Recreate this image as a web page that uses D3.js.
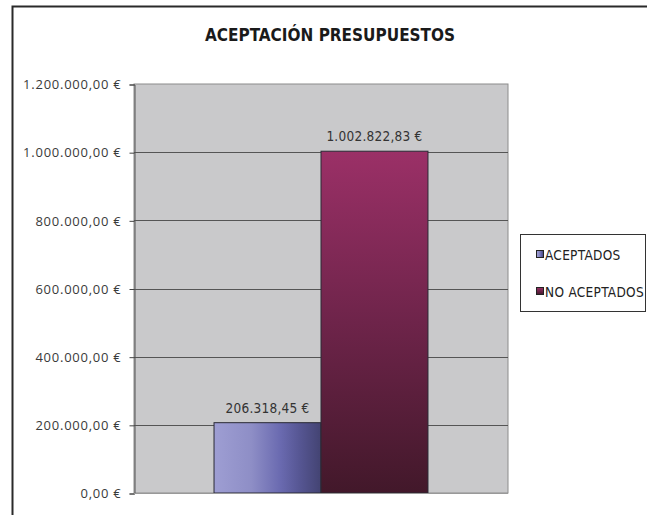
<!DOCTYPE html>
<html><head><meta charset="utf-8">
<script src="https://cdn.jsdelivr.net/npm/d3@7"></script>
<style>
html,body{margin:0;padding:0;background:#fff;}
svg{display:block;}
</style></head>
<body>
<script>
const title = "ACEPTACIÓN PRESUPUESTOS";
const categories = [""];
const seriesNames = ["ACEPTADOS", "NO ACEPTADOS"];
const seriesValues = [206318.45, 1002822.83];
const yTicks = [0, 200000, 400000, 600000, 800000, 1000000, 1200000];

(function () {
const W = 647, H = 515;
const svg = d3.select("body").append("svg").attr("width", W).attr("height", H);

const loc = d3.formatLocale({decimal: ",", thousands: ".", grouping: [3], currency: ["", " €"]});
const fmt = loc.format("$,.2f");
const condensed = "'DejaVu Sans Condensed','Liberation Sans Narrow',sans-serif";

const defs = svg.append("defs");
const g1 = defs.append("linearGradient").attr("id", "gA").attr("x1", 0).attr("y1", 0).attr("x2", 1).attr("y2", 0);
[[0, "#9e9ed3"], [0.35, "#8e8ec6"], [0.62, "#6a6ab0"], [0.8, "#565693"], [1, "#434372"]].forEach(s => g1.append("stop").attr("offset", s[0]).attr("stop-color", s[1]));
const g2 = defs.append("linearGradient").attr("id", "gB").attr("x1", 0).attr("y1", 0).attr("x2", 0).attr("y2", 1);
[[0, "#9b3067"], [0.5, "#6e244a"], [1, "#42182a"]].forEach(s => g2.append("stop").attr("offset", s[0]).attr("stop-color", s[1]));
const fills = ["url(#gA)", "url(#gB)"];

// outer frame
svg.append("rect").attr("x", 12.5).attr("y", 6.5).attr("width", 700).attr("height", 600)
  .attr("fill", "none").attr("stroke", "#2a2a2a").attr("stroke-width", 2);

// title
svg.append("text").attr("x", 330).attr("y", 41).attr("text-anchor", "middle")
  .attr("font-family", condensed)
  .attr("font-weight", "bold").attr("font-size", 17).attr("letter-spacing", 0)
  .attr("fill", "#1a1a1a").text(title);

const pL = 134, pR = 508, pT = 84, pB = 493;
const y = d3.scaleLinear().domain([0, 1200000]).range([pB, pT]);
const x0 = d3.scaleBand().domain(categories).range([pL, pR]).paddingInner(0).paddingOuter(0.374);
const x1 = d3.scaleBand().domain(seriesNames).range([0, x0.bandwidth()]).padding(0);

// plot area
svg.append("rect").attr("x", pL).attr("y", pT).attr("width", pR - pL).attr("height", pB - pT)
  .attr("fill", "#c9c9cb").attr("stroke", "#8c8c8c").attr("stroke-width", 1);

// gridlines
svg.append("g").selectAll("line").data(yTicks.filter(d => d > 0 && d < 1200000)).join("line")
  .attr("x1", pL).attr("x2", pR).attr("y1", d => Math.round(y(d)) + 0.5).attr("y2", d => Math.round(y(d)) + 0.5)
  .attr("stroke", "#555").attr("stroke-width", 1);

// y axis
const yAxis = d3.axisLeft(y).tickValues(yTicks).tickFormat(fmt).tickSize(5).tickPadding(8);
const ya = svg.append("g").attr("transform", `translate(${pL + 0.5},0.5)`).call(yAxis);
ya.select(".domain").attr("stroke", "#555");
ya.selectAll(".tick line").attr("stroke", "#444");
ya.selectAll(".tick text").attr("font-family", "'Open Sans','Noto Sans',sans-serif").attr("font-size", 13)
  .attr("letter-spacing", 0.75).attr("fill", "#3a3a3a");

// bars
const bars = svg.append("g");
seriesNames.forEach((name, i) => {
  const v = seriesValues[i];
  const bx = x0(categories[0]) + x1(name);
  bars.append("rect").attr("x", bx).attr("y", y(v)).attr("width", x1.bandwidth()).attr("height", y(0) - y(v))
    .attr("fill", fills[i]).attr("stroke", "#2a2a35").attr("stroke-width", 1);
  bars.append("text").attr("x", bx + x1.bandwidth() / 2).attr("y", y(v) - 10).attr("text-anchor", "middle")
    .attr("font-family", condensed)
    .attr("font-size", 13.5).attr("letter-spacing", 0.25).attr("fill", "#333").text(fmt(v));
});
// bottom axis line
svg.append("line").attr("x1", pL).attr("x2", pR).attr("y1", pB + 0.5).attr("y2", pB + 0.5).attr("stroke", "#999");

// legend
const lg = svg.append("g");
lg.append("rect").attr("x", 520.5).attr("y", 234.5).attr("width", 125).attr("height", 77)
  .attr("fill", "#fff").attr("stroke", "#333").attr("stroke-width", 1);
seriesNames.forEach((name, i) => {
  const ly = 255 + i * 37;
  lg.append("rect").attr("x", 536.5).attr("y", ly - 4.5).attr("width", 7).attr("height", 7)
    .attr("fill", fills[i]).attr("stroke", "#222").attr("stroke-width", 1);
  lg.append("text").attr("x", 545).attr("y", ly + 5)
    .attr("font-family", condensed)
    .attr("font-size", 13.5).attr("letter-spacing", 0.3).attr("fill", "#222").text(name);
});
})();
</script>
</body></html>
